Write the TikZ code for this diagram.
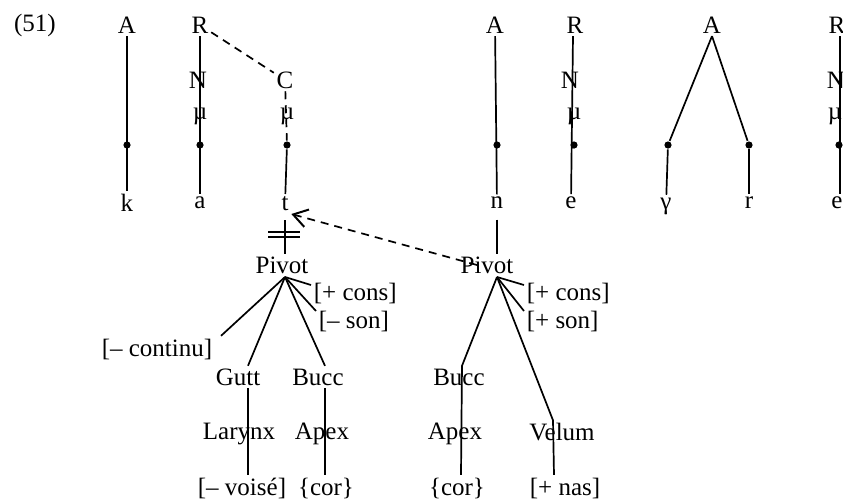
\documentclass[tikz,border=0pt]{standalone}
\usepackage{fontspec}
\setmainfont{Liberation Serif}
\usetikzlibrary{arrows.meta}

\begin{document}
\begin{tikzpicture}[x=0.5pt, y=-0.5pt, line width=0.85pt,
	every node/.style={inner sep=1pt, font=\fontsize{12.5}{15}\selectfont},
	punkt/.style={circle, fill, inner sep=0pt, minimum size=3.6pt},
	gestrichelt/.style={dash pattern=on 4pt off 3pt}]

\useasboundingbox (0,0) rectangle (843,500);

% Beispielnummer
\node (nr) at (35,25) {(51)};

% Obere Reihe: Konstituenten
\node (A1) at (127,25) {A};
\node (R1) at (200,25) {R};
\node (N1) at (198,80) {N};
\node (m1) at (200,116) {µ};
\node (C1) at (285,80) {C};
\node (m2) at (287,116) {µ};
\node (A2) at (495,25) {A};
\node (R2) at (575,25) {R};
\node (N2) at (570,80) {N};
\node (m3) at (574,116) {µ};
\node (A3) at (712,25) {A};
\node (R3) at (837,25) {R};
\node (N3) at (836,80) {N};
\node (m4) at (835,116) {µ};

% Skelettpunkte
\node[punkt] (p1) at (127,145) {};
\node[punkt] (p2) at (200,145) {};
\node[punkt] (p3) at (287,145) {};
\node[punkt] (p4) at (497,145) {};
\node[punkt] (p5) at (574,145) {};
\node[punkt] (p6) at (668,145) {};
\node[punkt] (p7) at (749,145) {};
\node[punkt] (p8) at (839,145) {};

% Segmente
\node (k)  at (127,203) {k};
\node (a)  at (200,203) {a};
\node (t)  at (285,204) {t};
\node (n)  at (497,203) {n};
\node (e1) at (571,203) {e};
\node (g)  at (666,206) {γ};
\node (r)  at (749,203) {r};
\node (e2) at (837,203) {e};

% Assoziationslinien
\draw (A1) -- (k);
\draw (R1) -- (a);
\draw[gestrichelt] (R1) -- (C1);
\draw[gestrichelt] (C1) -- (p3);
\draw (p3) -- (t);
\draw (A2) -- (n);
\draw ([xshift=-1pt]R2.south) -- (e1);
\draw (A3.south) -- (p6);
\draw (A3.south) -- (p7);
\draw (p6) -- (g);
\draw (p7) -- (r);
\draw ([xshift=1.5pt]R3.south) -- ([xshift=1.5pt]e2.north);

% Linker Baum (t)
\node (P1) at (282,265) {Pivot};
\coordinate (f1) at (285,277);
\node[anchor=west] (cons1) at (311,293) {[+ cons]};
\node[anchor=west] (son1)  at (316,321) {[– son]};
\node (cont1) at (157,349) {[– continu]};
\node (Gutt)  at (238,377) {Gutt};
\node (Bucc1) at (318,377) {Bucc};
\node (Lar)   at (239,434) {Larynx};
\node (Apex1) at (322,434) {Apex};
\node (voise) at (242,488) {[– voisé]};
\node (cor1)  at (326,488) {\{cor\}};

\draw[shorten <=3pt] (t) -- ([xshift=1.5pt]P1.north);
\draw (268,232) -- (300,232) (268,237) -- (300,237);
\draw (f1) -- ([yshift=4pt]cons1.west);
\draw (f1) -- ([yshift=5pt]son1.west);
\draw (f1) -- ([xshift=3pt]cont1.north east);
\draw (f1) -- ([xshift=5pt]Gutt.north);
\draw (f1) -- ([xshift=3.5pt]Bucc1.north);
\draw ([xshift=5pt]Gutt.south) -- ([xshift=3pt]voise.north);
\draw ([xshift=3.5pt]Bucc1.south) -- ([xshift=-0.5pt]cor1.north);

% Rechter Baum (n)
\node (P2) at (487,265) {Pivot};
\coordinate (f2) at (497,277);
\node[anchor=west] (cons2) at (524,293) {[+ cons]};
\node[anchor=west] (son2)  at (524,321) {[+ son]};
\node (Bucc2) at (459,377) {Bucc};
\node (Apex2) at (455,434) {Apex};
\node (Vel)   at (562,432) {Velum};
\node (cor2)  at (457,488) {\{cor\}};
\node (nas)   at (565,488) {[+ nas]};

\draw[shorten <=4pt] (n) -- ([xshift=5pt]P2.north);
\draw (f2) -- ([yshift=4pt]cons2.west);
\draw (f2) -- ([yshift=5pt]son2.west);
\draw (f2) -- ([xshift=1.5pt]Bucc2.north) -- ([xshift=2pt]cor2.north);
\draw (f2) -- ([xshift=-4.5pt]Vel.north) -- ([xshift=-5.5pt]nas.north);

% Verbreitung: gestrichelter Pfeil von Pivot zu t
\draw[gestrichelt, -{Straight Barb[length=7pt, width=9pt, line width=1pt]}]
	([xshift=-5pt]P2.center) -- (t.south east);

\end{tikzpicture}
\end{document}
